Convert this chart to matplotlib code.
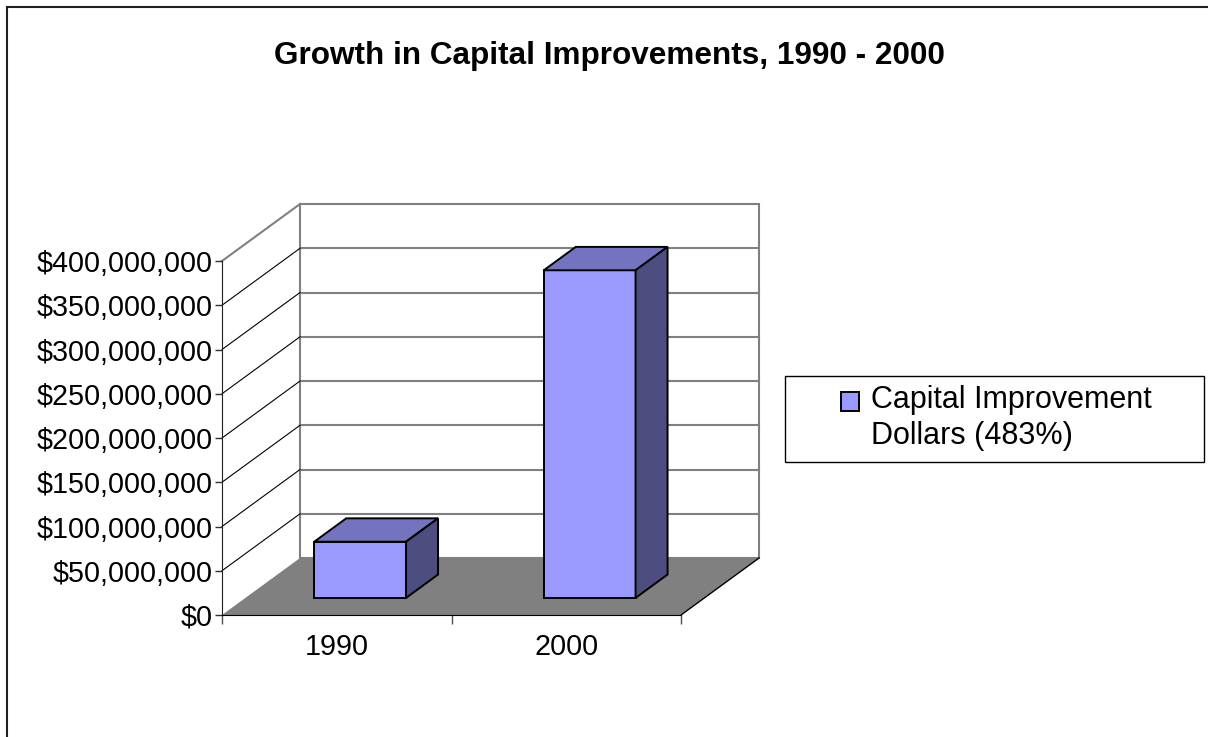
import matplotlib
matplotlib.use("Agg")
import matplotlib.pyplot as plt
from matplotlib.patches import Polygon, Rectangle
from matplotlib.lines import Line2D
from matplotlib.ticker import FuncFormatter

plt.rcParams['font.family'] = ['Liberation Sans', 'DejaVu Sans']

# data
years = ['1990', '2000']
dollars = [63_500_000, 370_200_000]
series_label = 'Capital Improvement\nDollars (483%)'
title = 'Growth in Capital Improvements, 1990 - 2000'
ymax = 400_000_000
ystep = 50_000_000

W, H = 1208, 737

# fake 3d: how far the back wall sits from the front, in data units
DX = 0.34          # categories
DY = 64.4e6        # dollars
bar_w = 0.40
bar_front, bar_back = 0.30, 0.71

front_col = '#9999FF'
top_col = '#7373BF'
side_col = '#4D4D80'
floor_col = '#808080'
wall_line = '#808080'


def fx(px):
    return px / W


def fy(py):
    return 1 - py / H


def proj(x, v, d):
    return (x + d * DX, v + d * DY)


fig = plt.figure(figsize=(W / 100, H / 100), dpi=100)
ax = fig.add_axes([fx(222), fy(615), (681 - 222) / W, (615 - 261) / H])
ax.set_xlim(0, len(years))
ax.set_ylim(0, ymax)
n = len(years)

# back wall + left wall
back = Polygon([proj(0, 0, 1), proj(n, 0, 1), proj(n, ymax, 1), proj(0, ymax, 1)],
               closed=True, facecolor='white', edgecolor=wall_line, lw=1.5,
               clip_on=False, zorder=1)
ax.add_patch(back)
for v in range(ystep, ymax, ystep):
    xs, ys = zip(proj(0, v, 1), proj(n, v, 1))
    ax.add_line(Line2D(xs, ys, color=wall_line, lw=1.5, clip_on=False, zorder=1.1))
    xs, ys = zip(proj(0, v, 0), proj(0, v, 1))
    ax.add_line(Line2D(xs, ys, color='black', lw=0.8, clip_on=False, zorder=1.1))
xs, ys = zip(proj(0, ymax, 0), proj(0, ymax, 1))
ax.add_line(Line2D(xs, ys, color=wall_line, lw=1.5, clip_on=False, zorder=1.1))

# floor
floor = Polygon([proj(0, 0, 0), proj(n, 0, 0), proj(n, 0, 1), proj(0, 0, 1)],
                closed=True, facecolor=floor_col, edgecolor='none',
                clip_on=False, zorder=1.2)
ax.add_patch(floor)
xs, ys = zip(proj(n, 0, 0), proj(n, 0, 1))
ax.add_line(Line2D(xs, ys, color='black', lw=1, clip_on=False, zorder=1.3))

# bars
for i, val in enumerate(dollars):
    x0 = i + 0.5 - bar_w / 2
    x1 = i + 0.5 + bar_w / 2
    f, b = bar_front, bar_back
    faces = [
        ([proj(x0, 0, f), proj(x1, 0, f), proj(x1, val, f), proj(x0, val, f)], front_col),
        ([proj(x0, val, f), proj(x1, val, f), proj(x1, val, b), proj(x0, val, b)], top_col),
        ([proj(x1, 0, f), proj(x1, 0, b), proj(x1, val, b), proj(x1, val, f)], side_col),
    ]
    for pts, c in faces:
        ax.add_patch(Polygon(pts, closed=True, facecolor=c, edgecolor='black',
                             lw=1.4, joinstyle='miter', clip_on=False, zorder=3))

# axes
for s in ['top', 'right']:
    ax.spines[s].set_visible(False)
ax.spines['left'].set_color('#202020')
ax.spines['bottom'].set_color('black')
ax.spines['left'].set_zorder(4)
ax.spines['bottom'].set_zorder(4)
ax.patch.set_visible(False)

ax.set_yticks(range(0, ymax + 1, ystep))
ax.yaxis.set_major_formatter(FuncFormatter(lambda v, _: f'${v:,.0f}'))
ax.tick_params(axis='y', length=5, width=1, color='#303030', pad=2, labelsize=20.7)

ax.set_xticks([i + 0.5 for i in range(n)], years)
ax.set_xticks(range(n + 1), minor=True)
ax.tick_params(axis='x', which='major', length=0, pad=13, labelsize=20.7)
ax.tick_params(axis='x', which='minor', length=6.5, width=1, color='#505050')

fig.text(fx(609), fy(64), title, ha='center', va='baseline',
         fontsize=22.7, fontweight='bold')

# legend box drawn by hand (Excel-style layout)
fig.add_artist(Rectangle((fx(785), fy(462)), (1204 - 785) / W, (462 - 376) / H,
                         transform=fig.transFigure, facecolor='white',
                         edgecolor='black', lw=1))
fig.add_artist(Rectangle((fx(841), fy(411)), 18 / W, 19 / H,
                         transform=fig.transFigure, facecolor=front_col,
                         edgecolor='black', lw=1.4))
fig.text(fx(871), fy(444), series_label, ha='left', va='baseline',
         fontsize=22, linespacing=1.28)

# chart area border (only left and top fall inside the picture)
fig.add_artist(Line2D([fx(7), fx(7)], [0, fy(7)], transform=fig.transFigure,
                      color='#202020', lw=1.5))
fig.add_artist(Line2D([fx(7), 1], [fy(7), fy(7)], transform=fig.transFigure,
                      color='#202020', lw=1.5))

fig.savefig('out.png', dpi=100)
